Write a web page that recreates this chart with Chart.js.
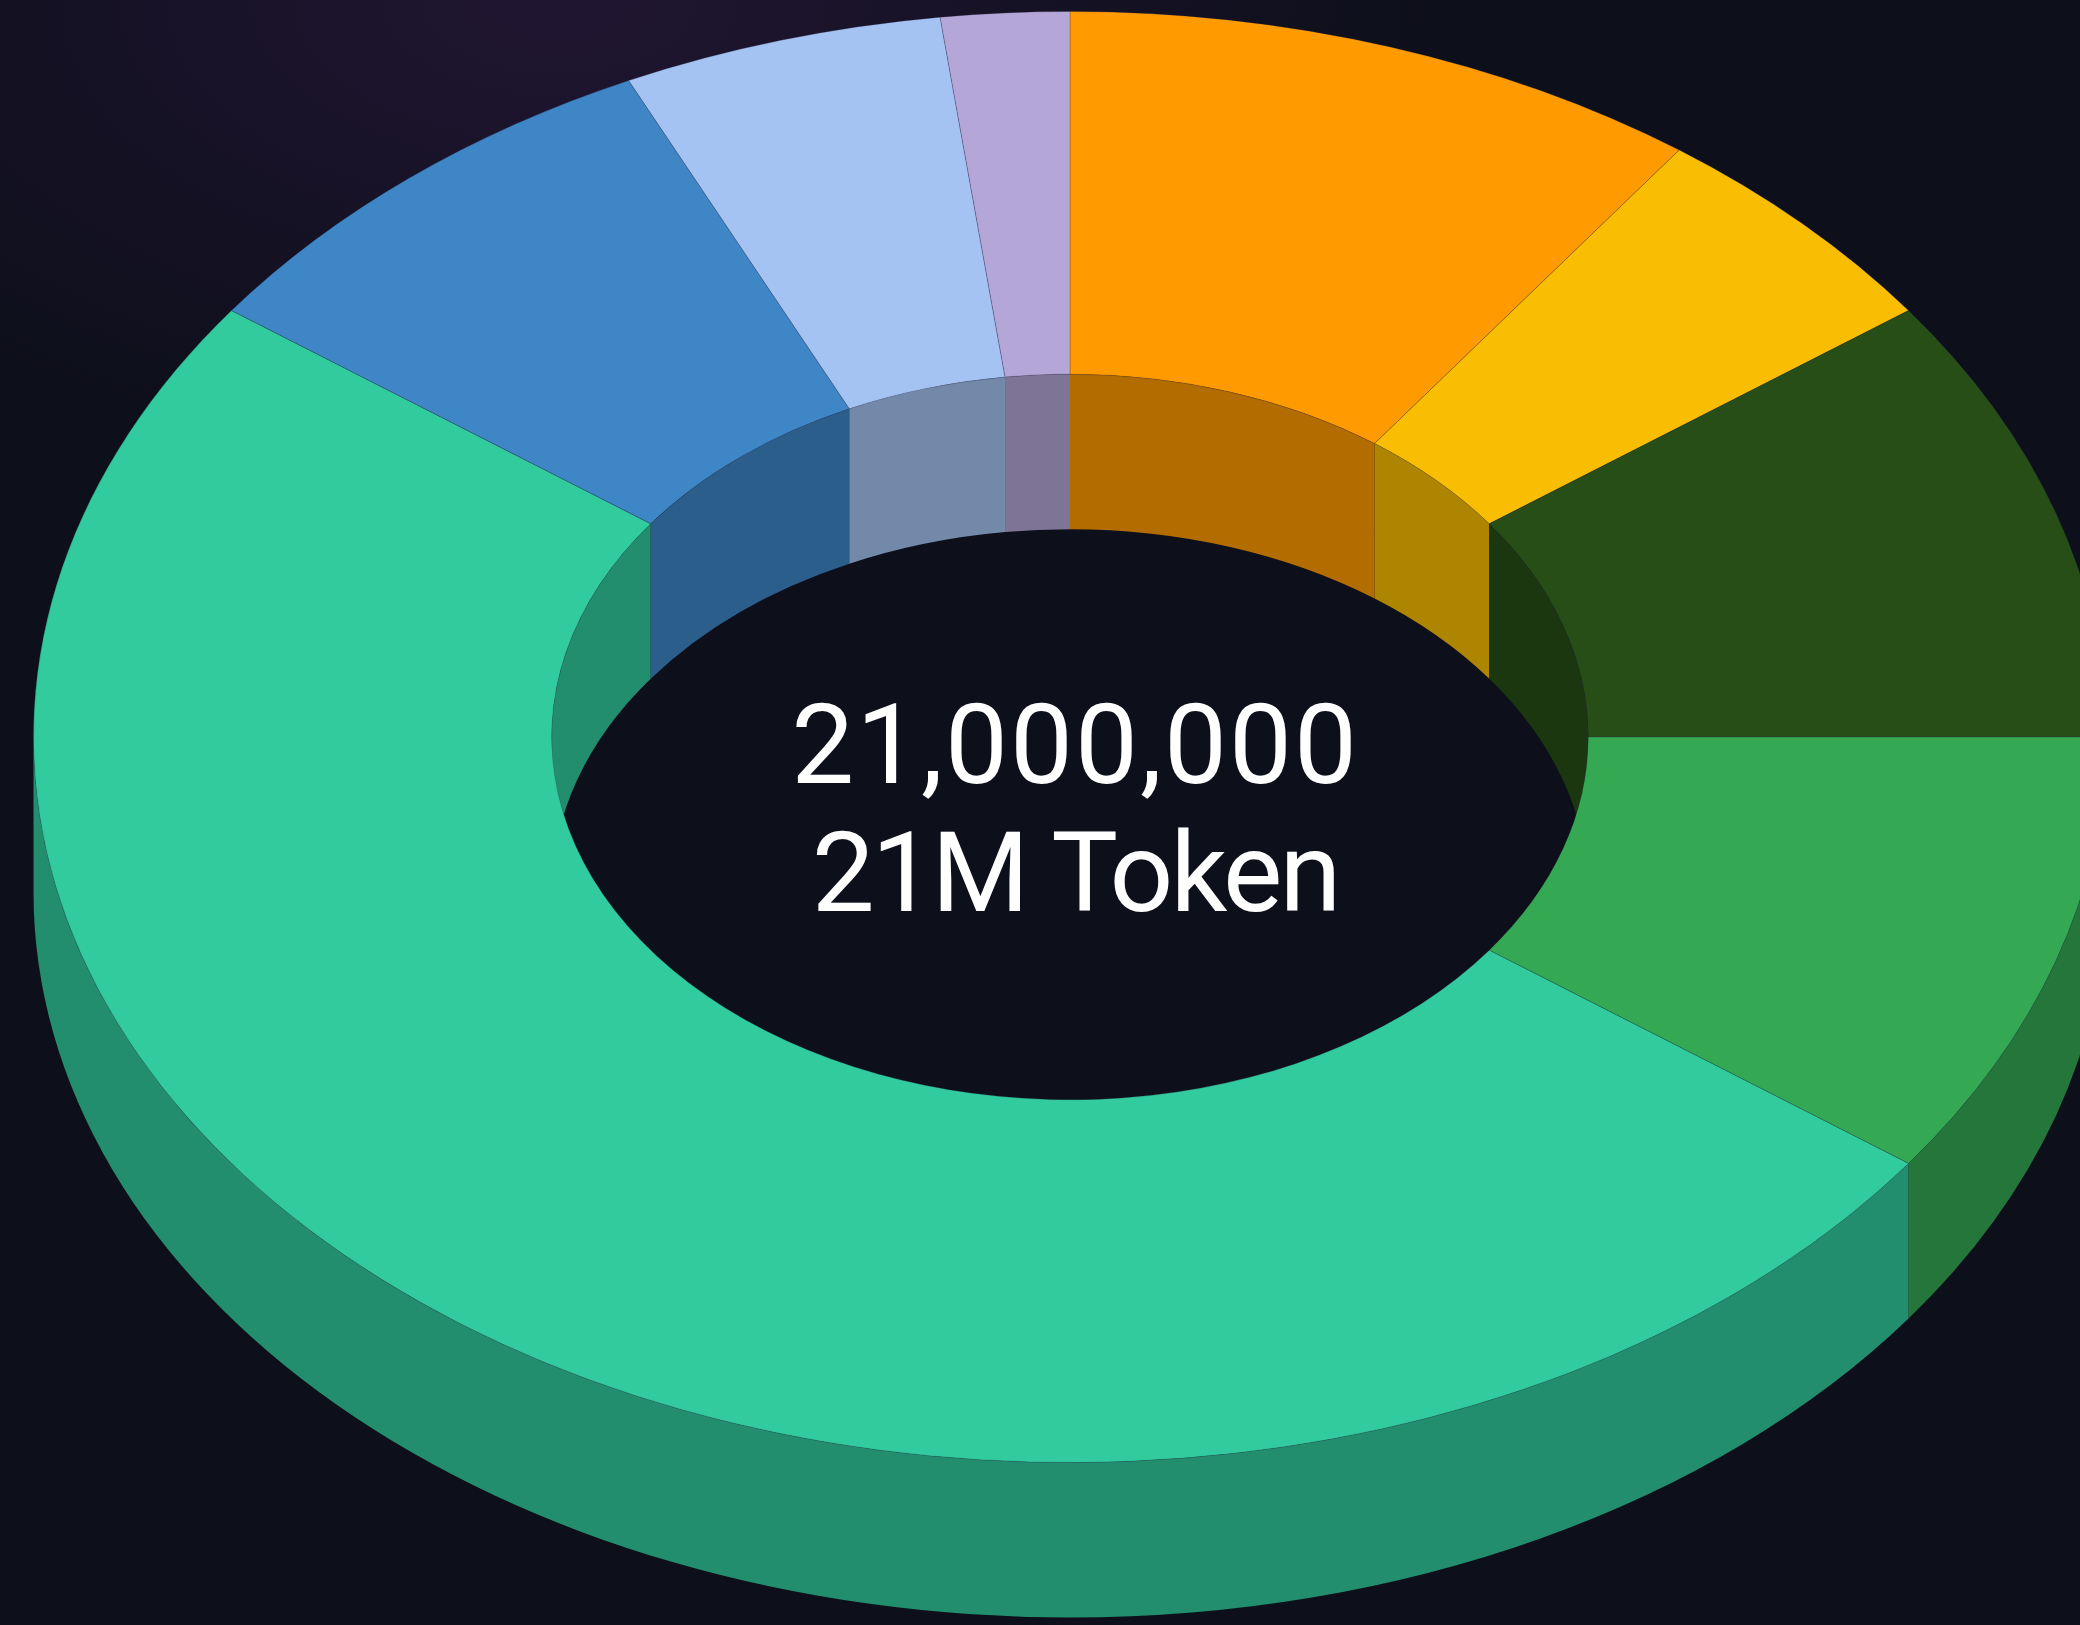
<!DOCTYPE html>
<html>
<head>
<meta charset="utf-8">
<title>21M Token supply</title>
<script src="https://cdn.jsdelivr.net/npm/chart.js@4.4.1/dist/chart.umd.min.js"></script>
<style>
    html, body { margin: 0; padding: 0; }
    body {
        width: 2080px;
        height: 1625px;
        overflow: hidden;
        background-color: #0d0f1a;
        background-image: radial-gradient(ellipse 900px 480px at 560px 0px, rgba(34, 22, 52, 0.9), rgba(13, 15, 26, 0) 100%);
        font-family: Roboto, "Noto Sans", sans-serif;
    }
    #wrap { position: relative; width: 2080px; height: 1625px; overflow: hidden; }
    canvas { display: block; }
</style>
</head>
<body>
<div id="wrap">
    <canvas id="supplyChart" width="2140" height="2074" style="width:2140px;height:2074px"></canvas>
</div>
<script>
// Token split, in percent of the 21M supply (clockwise from 12 o'clock)
const categories = ['Slice 1', 'Slice 2', 'Slice 3', 'Slice 4', 'Slice 5', 'Slice 6', 'Slice 7', 'Slice 8'];
const shares = [10, 5, 10, 10, 50, 8, 5, 2];
const sliceColors = ['#ff9a00', '#f9be02', '#274e16', '#34a853', '#32cb9d', '#3e86c6', '#a4c3f3', '#b4a6d6'];
const centerLines = ['21,000,000', '21M Token'];

// view settings for the fake 3D look
const TILT = 0.70;       // vertical squash of the disc
const DEPTH = 155;       // thickness of the extrusion, px
const CENTER_Y = 737;    // page y where the disc centre lands
const SHADE = 0.7;       // walls are the top colour darkened
const TEXT_FONT = '400 112px Roboto, "Noto Sans", sans-serif';

function shade(hex, f) {
    const n = parseInt(hex.slice(1), 16);
    const r = Math.round(((n >> 16) & 255) * f);
    const g = Math.round(((n >> 8) & 255) * f);
    const b = Math.round((n & 255) * f);
    return `rgb(${r}, ${g}, ${b})`;
}
const sideColors = sliceColors.map(c => shade(c, SHADE));

// Fill the wall under one arc, only where it falls inside [w0, w1] (mod 2pi)
function fillWall(ctx, arc, radius, w0, w1, drop, color) {
    const TAU = Math.PI * 2;
    for (let k = -1; k <= 1; k++) {
        const lo = Math.max(arc.startAngle, w0 + k * TAU);
        const hi = Math.min(arc.endAngle, w1 + k * TAU);
        if (hi <= lo) continue;
        ctx.beginPath();
        ctx.arc(arc.x, arc.y, radius, lo, hi);
        ctx.arc(arc.x, arc.y + drop, radius, hi, lo, true);
        ctx.closePath();
        ctx.fillStyle = color;
        ctx.fill();
    }
}

const tiltPlugin = {
    id: 'tilt3d',
    beforeDatasetsDraw(chart) {
        const ctx = chart.ctx;
        const arcs = chart.getDatasetMeta(0).data;
        const drop = DEPTH / TILT;   // wall height in unsquashed units

        ctx.save();
        ctx.translate(0, CENTER_Y);
        ctx.scale(1, TILT);
        ctx.translate(0, -arcs[0].y);

        // far inner wall, seen through the hole
        arcs.forEach((arc, i) => fillWall(ctx, arc, arc.innerRadius, Math.PI, 2 * Math.PI, drop, sideColors[i]));
        // near outer wall
        arcs.forEach((arc, i) => fillWall(ctx, arc, arc.outerRadius, 0, Math.PI, drop, sideColors[i]));
        // top face
        arcs.forEach(arc => arc.draw(ctx));

        ctx.restore();
        return false;
    },
    afterDraw(chart) {
        const ctx = chart.ctx;
        const x = chart.getDatasetMeta(0).data[0].x + 5;
        ctx.save();
        ctx.fillStyle = '#ffffff';
        ctx.textAlign = 'center';
        ctx.textBaseline = 'alphabetic';
        ctx.font = TEXT_FONT;
        ctx.letterSpacing = '2px';
        ctx.fillText(centerLines[0], x, CENTER_Y + 46);
        ctx.letterSpacing = '-3px';
        ctx.fillText(centerLines[1], x, CENTER_Y + 174);
        ctx.restore();
    }
};

function buildChart() {
    const ctx = document.getElementById('supplyChart').getContext('2d');
    new Chart(ctx, {
        type: 'doughnut',
        data: {
            labels: categories,
            datasets: [{
                data: shares,
                backgroundColor: sliceColors,
                borderColor: 'rgba(40, 40, 70, 0.3)',
                borderWidth: 1
            }]
        },
        options: {
            responsive: false,
            devicePixelRatio: 1,
            animation: false,
            cutout: '50%',
            layout: { padding: { left: 33, right: 33, top: 0, bottom: 0 } },
            plugins: {
                legend: { display: false },
                tooltip: { enabled: false }
            }
        },
        plugins: [tiltPlugin]
    });
}

document.fonts.load(TEXT_FONT, centerLines.join(' ')).then(buildChart, buildChart);
</script>
</body>
</html>
